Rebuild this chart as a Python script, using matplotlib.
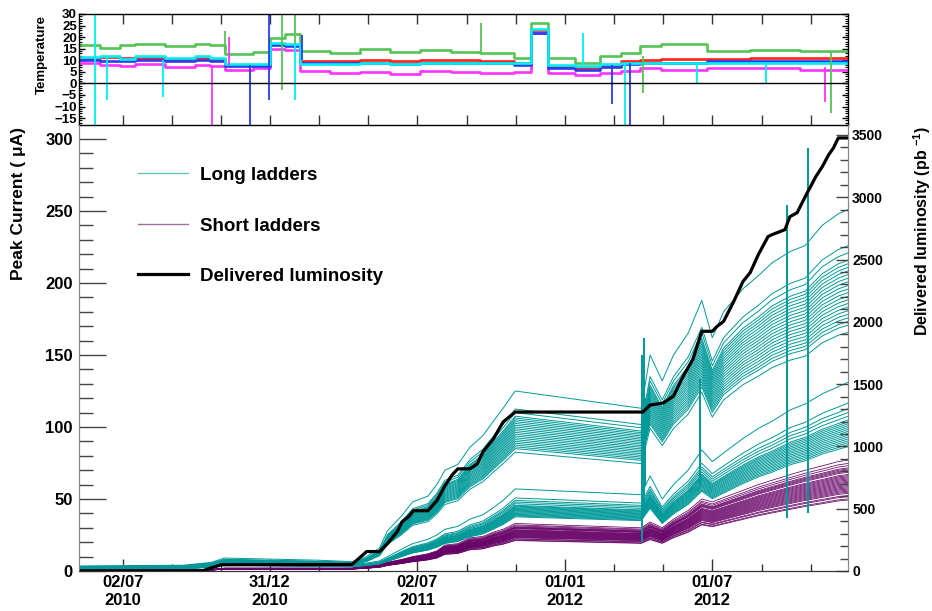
import numpy as np
import matplotlib
matplotlib.use('Agg')
import matplotlib.pyplot as plt
from matplotlib.ticker import MultipleLocator

plt.rcParams['font.family'] = ['Liberation Sans', 'DejaVu Sans']
plt.rcParams['font.weight'] = 'bold'
plt.rcParams['mathtext.fontset'] = 'custom'
plt.rcParams['mathtext.rm'] = 'Liberation Sans:bold'
plt.rcParams['mathtext.it'] = 'Liberation Sans:bold'
plt.rcParams['mathtext.bf'] = 'Liberation Sans:bold'
plt.rcParams['mathtext.default'] = 'rm'

# ---------------- data ----------------
x_range = ['2010-05-09', '2012-12-16']

# delivered luminosity (pb^-1)
lumi_dates = ['2010-05-09','2010-10-08','2010-11-01','2011-04-12','2011-04-30','2011-05-16','2011-05-26',
              '2011-06-07','2011-06-13','2011-06-21','2011-06-27','2011-07-15','2011-07-26','2011-08-05',
              '2011-08-14','2011-08-21','2011-09-05','2011-09-14','2011-09-21','2011-10-04','2011-10-16',
              '2011-10-25','2011-10-31','2012-04-06','2012-04-15','2012-05-01','2012-05-14','2012-05-26',
              '2012-06-07','2012-06-18','2012-07-01','2012-07-07','2012-07-15','2012-07-27','2012-08-08',
              '2012-08-17','2012-08-27','2012-09-08','2012-09-13','2012-09-29','2012-10-05','2012-10-14',
              '2012-10-24','2012-11-06','2012-11-14','2012-11-22','2012-11-28','2012-12-04','2012-12-16']
lumi_values = [0, 0, 50, 52, 156, 156, 220, 316, 396, 436, 484, 484, 564, 684, 772, 820, 820, 860, 956,
               1060, 1196, 1244, 1276, 1276, 1332, 1348, 1404, 1564, 1700, 1924, 1924, 1964, 2004, 2156,
               2324, 2396, 2540, 2684, 2700, 2740, 2844, 2876, 3004, 3164, 3244, 3340, 3396, 3476, 3476]

# ladder peak currents (uA): reference ladder of each group + per-ladder ratios
ladder_dates = ['2010-05-09','2010-09-15','2010-10-20','2010-11-05','2011-03-01','2011-04-12','2011-04-30',
                '2011-05-16','2011-05-26','2011-06-12','2011-06-26','2011-07-15','2011-07-26','2011-08-05',
                '2011-08-21','2011-09-05','2011-09-21','2011-10-04','2011-10-16','2011-10-31','2012-04-04',
                '2012-04-15','2012-04-30','2012-05-14','2012-06-01','2012-06-18','2012-07-01','2012-07-15',
                '2012-08-08','2012-08-27','2012-09-13','2012-10-06','2012-10-24','2012-11-14','2012-12-04',
                '2012-12-16']
long_upper_ref = [3.5, 4, 6, 9, 7.5, 6.5, 10, 16, 28, 38, 48, 52, 60, 70, 74, 86, 94, 104, 113, 125,
                  113, 150, 132, 150, 165, 188, 162, 180, 196, 205, 214, 222, 226, 240, 248, 251]
long_lower_ref = [2, 2.5, 4, 6, 5, 4.5, 5.5, 7, 10, 15, 19, 22, 25, 29, 31, 36, 39, 44, 49, 57,
                  53, 66, 50, 60, 70, 84, 76, 82, 92, 99, 104, 112, 116, 123, 128, 131]
short_ref = [0.5, 0.6, 1, 2, 2, 2, 3, 4, 6, 8, 10, 12, 14, 18, 19, 23, 24, 27, 29, 33,
             30, 34, 30, 36, 42, 50, 48, 51, 56, 60, 63, 67, 70, 73, 76, 77]
long_upper_ratios = [1.0, 0.90, 0.88, 0.86, 0.85, 0.84, 0.83, 0.82, 0.81, 0.80, 0.79, 0.78, 0.77,
                     0.76, 0.75, 0.74, 0.73, 0.72, 0.71, 0.70, 0.69, 0.68, 0.66]
long_lower_ratios = [1.0, 0.89, 0.86, 0.84, 0.82, 0.80, 0.79, 0.78, 0.77, 0.76, 0.75, 0.74, 0.73,
                     0.72, 0.71, 0.70, 0.69, 0.68, 0.67, 0.66]
short_ratios = [1.0, 0.97, 0.95, 0.93, 0.92, 0.91, 0.90, 0.89, 0.87, 0.86, 0.85, 0.84, 0.83, 0.82,
                0.81, 0.80, 0.79, 0.78, 0.77, 0.76, 0.75, 0.74, 0.73, 0.72, 0.71, 0.70, 0.68,
                0.67, 0.65, 0.64]
ladder_spike_dates = ['2012-04-05', '2012-04-07', '2012-04-09', '2012-06-16', '2012-10-02', '2012-10-28']
ladder_spike_lo = [20, 40, 60, 60, 37, 40]
ladder_spike_hi = [150, 162, 120, 133, 254, 294]

# temperatures
temp_dates = ['2010-05-09','2010-06-04','2010-06-29','2010-07-17','2010-08-23','2010-09-30','2010-10-18',
              '2010-11-06','2010-12-10','2011-01-01','2011-01-19','2011-02-07','2011-03-16','2011-04-22',
              '2011-05-29','2011-07-05','2011-08-12','2011-09-18','2011-10-29','2011-11-19','2011-12-11',
              '2012-01-13','2012-02-13','2012-03-10','2012-04-03','2012-04-28','2012-06-25','2012-08-17',
              '2012-10-18','2012-12-16']
temp_green = [16.5, 15.5, 16.5, 17, 16, 17, 16.5, 12.5, 13.5, 19.5, 21.5, 14, 13, 15, 13.5,
              14.5, 13.5, 13, 11, 26, 11, 9, 12, 13, 16, 17, 14, 14.5, 14, 14]
temp_red = [11, 11.5, 11, 11, 10.5, 11, 10.5, 8, 8, 17, 16.5, 9.5, 9.5, 10, 9.5,
            10, 10, 9.5, 9, 23, 7, 6.5, 7.5, 9.5, 10, 10.5, 10.5, 11, 11, 11]
temp_magenta = [9, 8, 7.5, 8.5, 7, 8, 7.5, 6, 6.5, 15, 14.5, 5.5, 4.5, 5, 4,
                5.5, 5, 4.5, 5, 22, 4.5, 3.5, 4.5, 5.5, 6.5, 6, 6.5, 6.5, 6, 6]
temp_blue = [10, 9.5, 9.5, 10, 9.5, 10, 9.5, 7.5, 7.5, 16.5, 16, 9, 9, 9, 8.5,
             9, 9, 9, 8, 22, 6.5, 6, 7, 8.5, 9, 9, 9.5, 9.5, 9.5, 9.5]
temp_cyan = [11.5, 12, 10.5, 12, 11, 12, 11, 8.5, 8.5, 17.5, 17, 8.5, 8.5, 9, 8.5,
             9, 9, 9, 9, 23.5, 8, 7.5, 8.5, 9, 9, 9, 9, 9, 9, 9]
temp_spike_dates = ['2010-05-29','2010-06-13','2010-08-21','2010-10-21','2010-11-06','2010-11-11',
                    '2010-12-07','2010-12-30','2011-01-15','2011-01-31','2011-01-31','2011-02-09',
                    '2011-09-19','2012-01-23','2012-02-28','2012-03-15','2012-03-21','2012-04-06',
                    '2012-06-12','2012-09-05','2012-11-18','2012-11-25']
temp_spike_lo = [-18, -7, -6, -18, 13, 8, -18, -7, -3, 17, -7, 10, 13, 8, -9, -18, -18, -4, 0, 0, -8, -13]
temp_spike_hi = [30, 12, 10, 8, 22.5, 20, 8, 30, 30, 30, 17, 21, 26, 22, 8, 9, 9, 12, 9, 9, 7, 14]
temp_spike_channel = ['cyan','cyan','cyan','magenta','green','magenta','blue','blue','green','green',
                      'cyan','blue','green','cyan','blue','cyan','blue','green','cyan','cyan',
                      'magenta','green']

major_ticks = ['2010-07-02', '2010-12-31', '2011-07-02', '2012-01-01', '2012-07-01']
major_labels = ['02/07\n2010', '31/12\n2010', '02/07\n2011', '01/01\n2012', '01/07\n2012']
minor_ticks = ['2010-09-01', '2010-11-01', '2011-03-02', '2011-05-02', '2011-09-01', '2011-11-01',
               '2012-03-01', '2012-05-01', '2012-08-31', '2012-10-31']
legend_labels = ['Long ladders', 'Short ladders', 'Delivered luminosity']

# ---------------- drawing ----------------
def dt(lst):
    return np.array(lst, dtype='datetime64[D]')

TEAL = '#009999'
PURPLE = '#660066'
temp_colors = {'green': '#55c455', 'red': '#ff2020', 'magenta': '#ff33ff', 'blue': '#2a3cf0', 'cyan': '#00f0f0'}

fig = plt.figure(figsize=(9.32, 6.11), dpi=100)
L, R = 79 / 932, 848 / 932
ax = fig.add_axes([L, 40 / 611, R - L, 446 / 611])
axT = fig.add_axes([L, 486 / 611, R - L, 111 / 611])
ax2 = ax.twinx()

xl = dt(x_range)

# ladders
ld = dt(ladder_dates)
h_long = None
for r in long_upper_ratios:
    h_long, = ax.plot(ld, np.array(long_upper_ref) * r, color=TEAL, lw=0.7)
for r in long_lower_ratios:
    ax.plot(ld, np.array(long_lower_ref) * r, color=TEAL, lw=0.7)
h_short = None
for r in short_ratios:
    h_short, = ax.plot(ld, np.array(short_ref) * r, color=PURPLE, lw=0.55)
ax.vlines(dt(ladder_spike_dates), ladder_spike_lo, ladder_spike_hi, color=TEAL, lw=1.4)

h_lumi, = ax2.plot(dt(lumi_dates), lumi_values, color='black', lw=2.3)

ax.set_xlim(xl[0], xl[1])
ax.set_ylim(0, 309.7)
ax2.set_ylim(0, 3580)

ax.set_xticks(dt(major_ticks))
ax.set_xticklabels(major_labels)
ax.set_xticks(dt(minor_ticks), minor=True)
ax.yaxis.set_major_locator(MultipleLocator(50))
ax.yaxis.set_minor_locator(MultipleLocator(10))
ax2.yaxis.set_major_locator(MultipleLocator(500))
ax2.yaxis.set_minor_locator(MultipleLocator(100))

ax.tick_params(axis='y', which='major', direction='in', length=19.5, width=1, color='#444444',
               labelsize=12, pad=4.5, right=False)
ax.tick_params(axis='y', which='minor', direction='in', length=10, width=1, color='#444444', right=False)
ax.tick_params(axis='x', which='major', direction='in', length=8.6, width=1, color='#333333',
               labelsize=12, pad=3)
ax.tick_params(axis='x', which='minor', direction='in', length=5, width=1, color='#333333')
for lab in ax.get_xticklabels():
    lab.set_linespacing(1.25)
ax2.tick_params(axis='y', which='major', direction='in', length=8.6, width=1, color='#444444',
                labelsize=10, pad=3)
ax2.tick_params(axis='y', which='minor', direction='in', length=5.5, width=1, color='#444444')

for a in (ax, ax2):
    a.spines['left'].set_color('#888888')
    a.spines['right'].set_color('#888888')
    a.spines['bottom'].set_color('#333333')
    a.spines['top'].set_visible(False)

leg = ax.legend([h_long, h_short, h_lumi], legend_labels, loc='upper left',
                bbox_to_anchor=(0.0767, 0.906), frameon=False, fontsize=13.5,
                handlelength=2.67, handletextpad=0.64, labelspacing=1.78, borderpad=0,
                borderaxespad=0)
leg.legend_handles[0].set_color('#66c2c2')
leg.legend_handles[1].set_color('#a070a0')
leg.legend_handles[0].set_linewidth(1.0)
leg.legend_handles[1].set_linewidth(1.0)

# temperature panel
td = dt(temp_dates)
for name, vals in [('green', temp_green), ('red', temp_red), ('magenta', temp_magenta),
                   ('blue', temp_blue), ('cyan', temp_cyan)]:
    axT.step(td, vals, where='post', color=temp_colors[name], lw=1.9)
axT.vlines(dt(temp_spike_dates), temp_spike_lo, temp_spike_hi,
           colors=[temp_colors[c] for c in temp_spike_channel], lw=1.3)
axT.axhline(0, color='black', lw=1)
axT.set_xlim(xl[0], xl[1])
axT.set_ylim(-18, 30)
axT.set_xticks(np.sort(np.concatenate([dt(major_ticks), dt(minor_ticks)])))
axT.set_xticklabels([])
axT.yaxis.set_major_locator(MultipleLocator(5))
axT.yaxis.set_minor_locator(MultipleLocator(1))
axT.tick_params(axis='x', which='both', direction='in', length=7, width=1, top=True, bottom=True,
                color='#333333')
axT.tick_params(axis='y', which='major', direction='in', length=4.3, width=1, left=True, right=True,
                labelsize=9.5, pad=1.5)
axT.tick_params(axis='y', which='minor', direction='in', length=2.2, width=0.8, left=True, right=True)
for s in axT.spines.values():
    s.set_color('black')
    s.set_linewidth(1)

fig.text(42 / 932, 1 - 54 / 611, 'Temperature', rotation=90, ha='center', va='center', fontsize=9.5)
fig.text(18.5 / 932, 1 - 203 / 611, 'Peak Current ( \u03bcA)', rotation=90, ha='center', va='center',
         fontsize=12.5)
fig.text(922 / 932, 1 - 231 / 611, 'Delivered luminosity (pb $^{-1}$)', rotation=90, ha='center',
         va='center', fontsize=11.5)

fig.savefig('out.png', dpi=100)
